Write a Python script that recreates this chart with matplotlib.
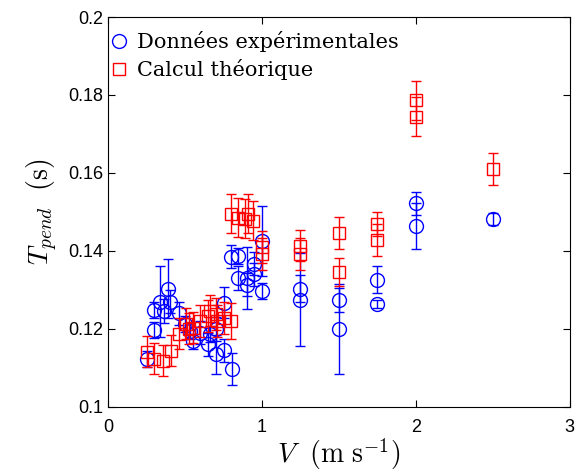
import numpy as np
import matplotlib
matplotlib.use("Agg")
import matplotlib.pyplot as plt

plt.rcParams['font.family'] = 'Liberation Sans'
plt.rcParams['mathtext.fontset'] = 'cm'
plt.rcParams['font.size'] = 13
plt.rcParams['xtick.direction'] = 'in'
plt.rcParams['ytick.direction'] = 'in'

# Données expérimentales (V, T, erreur)
v_exp = [0.25, 0.30, 0.30, 0.34, 0.36, 0.39, 0.40, 0.46, 0.50, 0.535, 0.55, 0.60,
         0.65, 0.665, 0.70, 0.70, 0.75, 0.75, 0.805, 0.80, 0.845, 0.845, 0.90, 0.90,
         0.95, 0.95, 1.00, 1.00, 1.25, 1.25, 1.50, 1.50, 1.75, 1.75, 2.00, 2.00, 2.50]
t_exp = [0.1123, 0.1197, 0.1248, 0.1270, 0.1246, 0.1303, 0.1270, 0.1240, 0.1212, 0.1195,
         0.1168, 0.1190, 0.1160, 0.1187, 0.1135, 0.1200, 0.1145, 0.1267, 0.1097, 0.1385,
         0.1387, 0.1330, 0.1330, 0.1313, 0.1367, 0.1340, 0.1426, 0.1297, 0.1303, 0.1275,
         0.1274, 0.1200, 0.1326, 0.1263, 0.1522, 0.1464, 0.1481]
e_exp = [0.002, 0.002, 0.002, 0.0090, 0.003, 0.0075, 0.003, 0.003, 0.002, 0.002,
         0.002, 0.003, 0.003, 0.002, 0.005, 0.003, 0.003, 0.004, 0.004, 0.003,
         0.002, 0.003, 0.008, 0.003, 0.003, 0.003, 0.009, 0.002, 0.0035, 0.012,
         0.003, 0.0115, 0.0035, 0.001, 0.003, 0.006, 0.0015]

# Calcul théorique (V, T, erreur)
v_th = [0.25, 0.30, 0.355, 0.41, 0.46, 0.505, 0.525, 0.55, 0.60, 0.65, 0.665, 0.70,
        0.71, 0.75, 0.80, 0.80, 0.845, 0.89, 0.91, 0.94, 1.00, 1.00, 1.25, 1.25,
        1.50, 1.50, 1.75, 1.75, 2.00, 2.00, 2.50]
t_th = [0.1141, 0.1123, 0.1118, 0.1144, 0.1187, 0.1213, 0.1200, 0.1203, 0.1220, 0.1233,
        0.1246, 0.1238, 0.1220, 0.1228, 0.1220, 0.1495, 0.1485, 0.1482, 0.1495, 0.1477,
        0.1410, 0.1392, 0.1413, 0.1392, 0.1446, 0.1346, 0.1469, 0.1428, 0.1787, 0.1744,
        0.1610]
e_th = [0.004, 0.004, 0.004, 0.004, 0.004, 0.004, 0.004, 0.004, 0.004, 0.004,
        0.004, 0.004, 0.004, 0.004, 0.0045, 0.005, 0.005, 0.005, 0.005, 0.005,
        0.004, 0.004, 0.004, 0.004, 0.004, 0.0035, 0.003, 0.004, 0.005, 0.005,
        0.004]

fig = plt.figure(figsize=(5.75, 4.73), dpi=100)
ax = fig.add_axes([0.188, 0.140, 0.803, 0.824])

ax.errorbar(v_exp, t_exp, yerr=e_exp, fmt='none', ecolor='b', elinewidth=1, capsize=3.5)
l1, = ax.plot(v_exp, t_exp, 'o', mfc='none', mec='b', ms=10, mew=1, label='Données expérimentales')
ax.errorbar(v_th, t_th, yerr=e_th, fmt='none', ecolor='r', elinewidth=1, capsize=3.5)
l2, = ax.plot(v_th, t_th, 's', mfc='none', mec='r', ms=9, mew=1, label='Calcul théorique')

ax.set_xlim(0, 3)
ax.set_ylim(0.1, 0.2)
ax.set_xticks([0, 1, 2, 3])
ax.set_xticklabels(['0', '1', '2', '3'])
ax.set_yticks([0.1, 0.12, 0.14, 0.16, 0.18, 0.2])
ax.set_yticklabels(['0.1', '0.12', '0.14', '0.16', '0.18', '0.2'])
ax.tick_params(top=True, right=True, length=5, width=0.8)
ax.tick_params(axis='x', pad=9)

ax.set_xlabel(r'$V\ \ (\mathrm{m\ s^{-1}})$', fontsize=20, labelpad=0)
ax.set_ylabel(r'$T_{pend}\ \ (\mathrm{s})$', fontsize=20, labelpad=6)

ax.legend(handles=[l1, l2], loc='upper left', bbox_to_anchor=(0, 0.975), frameon=False,
          prop={'family': 'DejaVu Serif', 'size': 15},
          handlelength=0.6, handletextpad=0.6, borderaxespad=0, borderpad=0.2, labelspacing=0.35)

fig.savefig('out.png', dpi=100)
